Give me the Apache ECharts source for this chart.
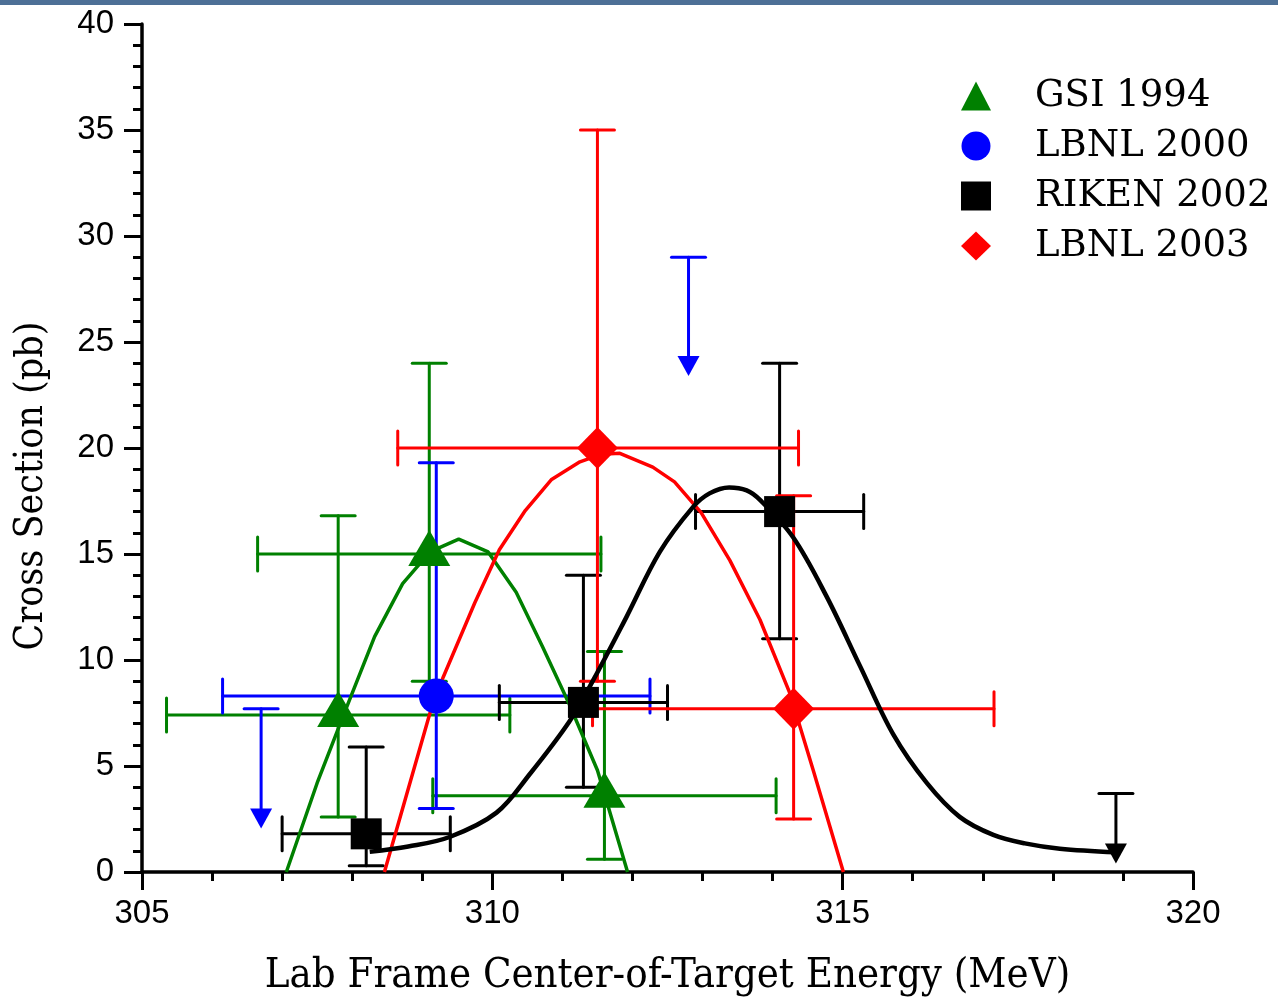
<!DOCTYPE html>
<html>
<head>
<meta charset="utf-8">
<script src="https://cdn.jsdelivr.net/npm/echarts@6/dist/echarts.min.js"></script>
<style>
  html, body { margin: 0; padding: 0; background: #fff; }
  #chart { width: 1278px; height: 1003px; }
</style>
</head>
<body>
<div id="chart"></div>
<script>
// ---------- data ----------
// GSI 1994 (green triangles)
const gsiX      = [307.8, 309.1, 311.6];
const gsiY      = [7.4, 15.0, 3.6];
const gsiXLow   = [305.35, 306.65, 309.15];
const gsiXHigh  = [310.25, 311.55, 314.05];
const gsiYLow   = [2.6, 9.0, 0.6];
const gsiYHigh  = [16.8, 24.0, 10.4];
const gsiCurveX = [307.06, 307.5, 307.9, 308.32, 308.72, 309.11, 309.52, 309.94, 310.34, 310.72, 311.1, 311.5, 311.93];
const gsiCurveY = [0, 4.2, 7.6, 11.1, 13.6, 15.1, 15.7, 15.1, 13.2, 10.6, 7.9, 4.8, 0];

// LBNL 2000 (blue circle) and upper limits
const lbnl00X     = [309.2];
const lbnl00Y     = [8.3];
const lbnl00XLow  = [306.15];
const lbnl00XHigh = [312.25];
const lbnl00YLow  = [3.0];
const lbnl00YHigh = [19.3];
const lbnl00LimX   = [306.7, 312.8];
const lbnl00LimTop = [7.7, 29.0];
const lbnl00LimTip = [2.05, 23.4];

// RIKEN 2002 (black squares) and upper limit
const rikenX     = [308.2, 311.3, 314.1];
const rikenY     = [1.8, 8.0, 17.0];
const rikenXLow  = [307.0, 310.1, 312.9];
const rikenXHigh = [309.4, 312.5, 315.3];
const rikenYLow  = [0.3, 4.0, 11.0];
const rikenYHigh = [5.9, 14.0, 24.0];
const rikenLimX   = [318.9];
const rikenLimTop = [3.7];
const rikenLimTip = [0.4];
const rikenCurveX = [308.25, 308.8, 309.39, 310.06, 310.53, 311.1, 311.44, 311.91, 312.39, 312.86, 313.1, 313.38, 313.63, 313.82, 314.29, 314.77, 315.25, 315.72, 316.2, 316.67, 317.15, 317.6, 318.1, 318.9];
const rikenCurveY = [0.95, 1.2, 1.65, 2.8, 4.6, 7.1, 9.05, 12.0, 15.1, 17.2, 17.86, 18.14, 18.0, 17.55, 15.8, 13.0, 9.7, 6.5, 4.2, 2.6, 1.75, 1.35, 1.1, 0.93];

// LBNL 2003 (red diamonds)
const lbnl03X     = [311.5, 314.3];
const lbnl03Y     = [20.0, 7.7];
const lbnl03XLow  = [308.65, 311.43];
const lbnl03XHigh = [314.37, 317.16];
const lbnl03YLow  = [9.0, 2.5];
const lbnl03YHigh = [35.0, 17.75];
const lbnl03CurveX = [308.46, 309.11, 309.3, 309.75, 310.1, 310.47, 310.84, 311.25, 311.55, 311.82, 312.29, 312.6, 312.98, 313.39, 313.82, 314.25, 314.58, 315.01];
const lbnl03CurveY = [0, 7.5, 9.2, 12.7, 15.2, 17.05, 18.5, 19.35, 19.7, 19.75, 19.1, 18.4, 16.95, 14.7, 11.9, 8.4, 4.8, 0];

const seriesNames = ['GSI 1994', 'LBNL 2000', 'RIKEN 2002', 'LBNL 2003'];
const xTitle = 'Lab Frame Center-of-Target Energy (MeV)';
const yTitle = 'Cross Section (pb)';

// ---------- helpers ----------
const zip = (...arrs) => arrs[0].map((_, i) => arrs.map(a => a[i]));

function errBarSeries(color, xs, ys, xl, xh, yl, yh) {
  return {
    type: 'custom',
    z: 2,
    silent: true,
    data: zip(xs, ys, xl, xh, yl, yh),
    encode: { x: [0, 2, 3], y: [1, 4, 5] },
    renderItem: function (params, api) {
      const c = api.coord([api.value(0), api.value(1)]);
      const pxl = api.coord([api.value(2), api.value(1)]);
      const pxh = api.coord([api.value(3), api.value(1)]);
      const pyl = api.coord([api.value(0), api.value(4)]);
      const pyh = api.coord([api.value(0), api.value(5)]);
      const cap = 17;
      const st = { stroke: color, lineWidth: 3, lineCap: 'round' };
      const L = (x1, y1, x2, y2) => ({ type: 'line', shape: { x1, y1, x2, y2 }, style: st });
      return {
        type: 'group',
        children: [
          L(pxl[0], c[1], pxh[0], c[1]),
          L(pxl[0], c[1] - cap, pxl[0], c[1] + cap),
          L(pxh[0], c[1] - cap, pxh[0], c[1] + cap),
          L(c[0], pyl[1], c[0], pyh[1]),
          L(c[0] - cap, pyl[1], c[0] + cap, pyl[1]),
          L(c[0] - cap, pyh[1], c[0] + cap, pyh[1])
        ]
      };
    }
  };
}

function limitSeries(color, xs, tops, tips) {
  return {
    type: 'custom',
    z: 2,
    silent: true,
    data: zip(xs, tops, tips),
    encode: { x: 0, y: [1, 2] },
    renderItem: function (params, api) {
      const t = api.coord([api.value(0), api.value(1)]);
      const b = api.coord([api.value(0), api.value(2)]);
      const st = { stroke: color, lineWidth: 3, lineCap: 'round' };
      const headH = 20, headW = 11, cap = 17;
      return {
        type: 'group',
        children: [
          { type: 'line', shape: { x1: t[0] - cap, y1: t[1], x2: t[0] + cap, y2: t[1] }, style: st },
          { type: 'line', shape: { x1: t[0], y1: t[1], x2: t[0], y2: b[1] - headH + 2 }, style: st },
          { type: 'polygon', shape: { points: [[b[0] - headW, b[1] - headH], [b[0] + headW, b[1] - headH], [b[0], b[1]]] }, style: { fill: color } }
        ]
      };
    }
  };
}

function curveSeries(color, xs, ys, width, smooth) {
  return {
    type: 'line',
    z: 3,
    silent: true,
    data: zip(xs, ys),
    showSymbol: false,
    symbol: 'none',
    smooth: smooth,
    lineStyle: { color: color, width: width },
    emphasis: { disabled: true }
  };
}

function markerSeries(name, color, symbol, size, xs, ys, offset) {
  return {
    type: 'scatter',
    name: name,
    z: 4,
    symbol: symbol,
    symbolSize: size,
    symbolOffset: offset || [0, 0],
    itemStyle: { color: color, opacity: 1 },
    data: zip(xs, ys),
    emphasis: { disabled: true }
  };
}

const GREEN = '#008000', BLUE = '#0000ff', BLACK = '#000000', RED = '#ff0000';

const chart = echarts.init(document.getElementById('chart'), null, { renderer: 'canvas' });
chart.setOption({
  animation: false,
  backgroundColor: '#ffffff',
  grid: { left: 142, right: 85, top: 24, bottom: 131, containLabel: false },
  legend: {
    orient: 'vertical',
    left: 956,
    top: 71,
    itemWidth: 30,
    itemHeight: 29,
    itemGap: 10,
    selectedMode: false,
    data: seriesNames,
    textStyle: {
      fontFamily: 'DejaVu Serif',
      fontSize: 37,
      color: '#000',
      lineHeight: 40,
      padding: [0, 0, 0, 39]
    }
  },
  xAxis: {
    type: 'value',
    min: 305, max: 320, interval: 5,
    name: xTitle,
    nameLocation: 'middle',
    nameGap: 83,
    nameTextStyle: { fontFamily: 'DejaVu Serif Condensed, DejaVu Serif', fontSize: 41.5, color: '#000' },
    axisLine: { lineStyle: { color: '#000', width: 3.5 } },
    axisTick: { inside: false, length: 18, lineStyle: { color: '#000', width: 3 } },
    minorTick: { show: true, splitNumber: 5, length: 9, lineStyle: { color: '#000', width: 3 } },
    axisLabel: { fontFamily: 'Liberation Sans', fontSize: 33, color: '#000', margin: 25 },
    splitLine: { show: false }
  },
  yAxis: {
    type: 'value',
    min: 0, max: 40, interval: 5,
    axisLine: { show: true, lineStyle: { color: '#000', width: 3.5 } },
    axisTick: { show: true, inside: false, length: 18, lineStyle: { color: '#000', width: 3 } },
    minorTick: { show: true, splitNumber: 5, length: 9, lineStyle: { color: '#000', width: 3 } },
    axisLabel: { fontFamily: 'Liberation Sans', fontSize: 33, color: '#000', margin: 28 },
    splitLine: { show: false }
  },
  graphic: [
    { type: 'rect', left: 0, top: 0, shape: { width: 1278, height: 5 }, style: { fill: '#4d7096' }, silent: true },
    {
      type: 'text', x: 32, y: 486, rotation: Math.PI / 2, silent: true,
      style: { text: yTitle, fontFamily: 'DejaVu Serif Condensed, DejaVu Serif', fontSize: 39, fill: '#000', align: 'center', verticalAlign: 'middle' }
    }
  ],
  series: [
    errBarSeries(GREEN, gsiX, gsiY, gsiXLow, gsiXHigh, gsiYLow, gsiYHigh),
    errBarSeries(BLUE, lbnl00X, lbnl00Y, lbnl00XLow, lbnl00XHigh, lbnl00YLow, lbnl00YHigh),
    limitSeries(BLUE, lbnl00LimX, lbnl00LimTop, lbnl00LimTip),
    errBarSeries(BLACK, rikenX, rikenY, rikenXLow, rikenXHigh, rikenYLow, rikenYHigh),
    limitSeries(BLACK, rikenLimX, rikenLimTop, rikenLimTip),
    errBarSeries(RED, lbnl03X, lbnl03Y, lbnl03XLow, lbnl03XHigh, lbnl03YLow, lbnl03YHigh),
    curveSeries(GREEN, gsiCurveX, gsiCurveY, 3.5, false),
    curveSeries(RED, lbnl03CurveX, lbnl03CurveY, 3.5, false),
    curveSeries(BLACK, rikenCurveX, rikenCurveY, 4.5, 0.35),
    markerSeries(seriesNames[0], GREEN, 'triangle', [42, 36], gsiX, gsiY, [0, -6]),
    markerSeries(seriesNames[1], BLUE, 'circle', 35, lbnl00X, lbnl00Y),
    markerSeries(seriesNames[2], BLACK, 'rect', 31, rikenX, rikenY),
    markerSeries(seriesNames[3], RED, 'diamond', [41, 42], lbnl03X, lbnl03Y)
  ]
});
</script>
</body>
</html>
